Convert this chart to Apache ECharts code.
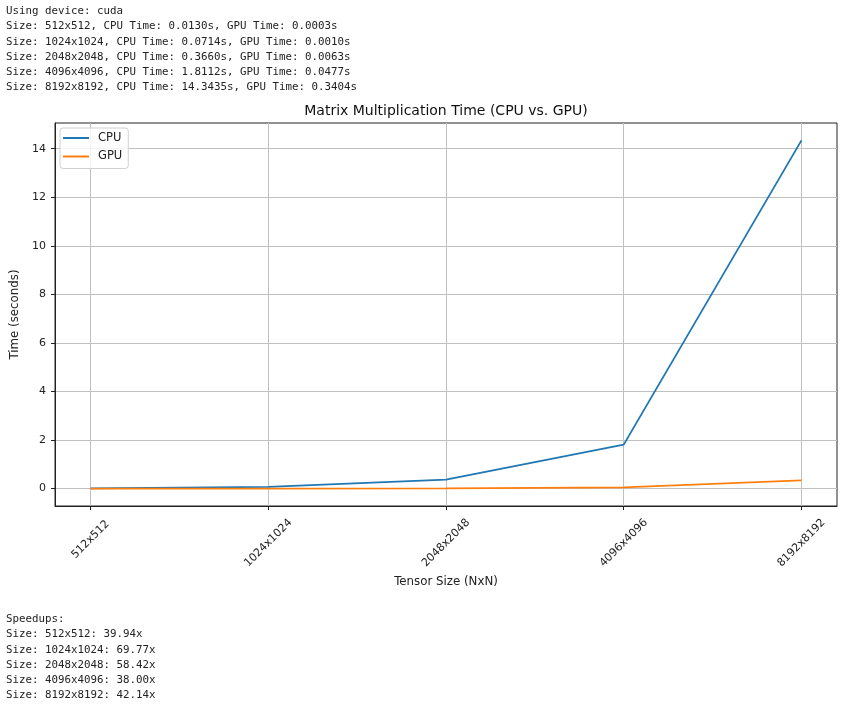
<!DOCTYPE html>
<html><head><meta charset="utf-8">
<script src="https://cdn.jsdelivr.net/npm/echarts@6/dist/echarts.min.js"></script>
<style>
html,body{margin:0;padding:0;background:#fff;}
#chart{position:absolute;left:0;top:0;width:845px;height:706px;}
pre{position:absolute;left:6px;margin:0;font-family:"DejaVu Sans Mono",monospace;font-size:10.8px;line-height:15.3px;color:#222;}
</style></head><body>
<div id="chart"></div>
<pre id="topText" style="top:3px"></pre>
<pre id="botText" style="top:611px"></pre>
<script>
const device = 'cuda';
const sizes = ['512x512', '1024x1024', '2048x2048', '4096x4096', '8192x8192'];
const cpuTimes = [0.0130, 0.0714, 0.3660, 1.8112, 14.3435];
const gpuTimes = [0.0003, 0.0010, 0.0063, 0.0477, 0.3404];
const speedups = ['39.94', '69.77', '58.42', '38.00', '42.14'];
const yTicks = [0, 2, 4, 6, 8, 10, 12, 14];
const xTicks = [0, 1, 2, 3, 4];

document.getElementById('topText').textContent =
  ['Using device: ' + device].concat(sizes.map((s, i) =>
    'Size: ' + s + ', CPU Time: ' + cpuTimes[i].toFixed(4) + 's, GPU Time: ' + gpuTimes[i].toFixed(4) + 's')).join('\n');
document.getElementById('botText').textContent =
  ['Speedups:'].concat(sizes.map((s, i) => 'Size: ' + s + ': ' + speedups[i] + 'x')).join('\n');

const all = cpuTimes.concat(gpuTimes);
const dMin = Math.min.apply(null, all), dMax = Math.max.apply(null, all);
const yPad = (dMax - dMin) * 0.05;
const xPad = (sizes.length - 1) * 0.05;
const maxLen = Math.max.apply(null, sizes.map(s => s.length));

const FONT = 'DejaVu Sans';
const TXT = '#222';
const chart = echarts.init(document.getElementById('chart'));
chart.setOption({
  animation: false,
  backgroundColor: '#fff',
  title: {
    text: 'Matrix Multiplication Time (CPU vs. GPU)',
    left: 441, top: 99, textAlign: 'center',
    textStyle: {fontFamily: FONT, fontSize: 14, fontWeight: 'normal', color: '#111'}
  },
  legend: {
    orient: 'vertical', left: 60, top: 128,
    padding: [4, 6, 6, 3], itemGap: 6.5, itemWidth: 26, itemHeight: 2, icon: 'rect',
    borderColor: '#d0d0d0', borderWidth: 1, borderRadius: 3,
    backgroundColor: 'rgba(255,255,255,0.8)',
    textStyle: {fontFamily: FONT, fontSize: 11.5, color: TXT, padding: [0, 0, 0, 4]},
    data: ['CPU', 'GPU']
  },
  grid: {left: 55, right: 8, top: 123, bottom: 200, show: true, borderColor: '#222', borderWidth: 1, containLabel: false},
  xAxis: {
    type: 'value', min: -xPad, max: sizes.length - 1 + xPad,
    name: 'Tensor Size (NxN)', nameLocation: 'middle', nameGap: 63,
    nameTextStyle: {fontFamily: FONT, fontSize: 11.8, color: TXT},
    axisLine: {show: true, onZero: false, lineStyle: {color: '#222', width: 1}},
    axisTick: {show: true, length: 4, customValues: xTicks, lineStyle: {color: '#222'}},
    splitLine: {show: true, lineStyle: {color: '#c0c0c0', width: 1}},
    axisLabel: {
      customValues: xTicks, rotate: 45, align: 'center', verticalAlign: 'middle', margin: 37,
      formatter: v => {
        const s = sizes[Math.round(v)];
        return s.length < maxLen ? '{s|' + s + '}' : '{l|' + s + '}';
      },
      rich: {
        s: {fontFamily: FONT, fontSize: 11, color: TXT, padding: [0, 0, 5, 5]},
        l: {fontFamily: FONT, fontSize: 11, color: TXT}
      }
    }
  },
  yAxis: {
    type: 'value', min: dMin - yPad, max: dMax + yPad,
    name: 'Time (seconds)', nameLocation: 'middle', nameGap: 28, nameRotate: 90,
    nameTextStyle: {fontFamily: FONT, fontSize: 11.8, color: TXT},
    axisLine: {show: true, onZero: false, lineStyle: {color: '#222', width: 1}},
    axisTick: {show: true, length: 4, customValues: yTicks, lineStyle: {color: '#222'}},
    splitLine: {show: true, lineStyle: {color: '#c0c0c0', width: 1}},
    axisLabel: {customValues: yTicks, margin: 9, fontFamily: FONT, fontSize: 11, color: TXT}
  },
  series: [
    {name: 'CPU', type: 'line', symbol: 'none', data: cpuTimes.map((v, i) => [i, v]),
     lineStyle: {color: '#1f77b4', width: 1.8}, itemStyle: {color: '#1f77b4'}},
    {name: 'GPU', type: 'line', symbol: 'none', data: gpuTimes.map((v, i) => [i, v]),
     lineStyle: {color: '#ff7f0e', width: 1.8}, itemStyle: {color: '#ff7f0e'}}
  ]
});
</script>
</body></html>
